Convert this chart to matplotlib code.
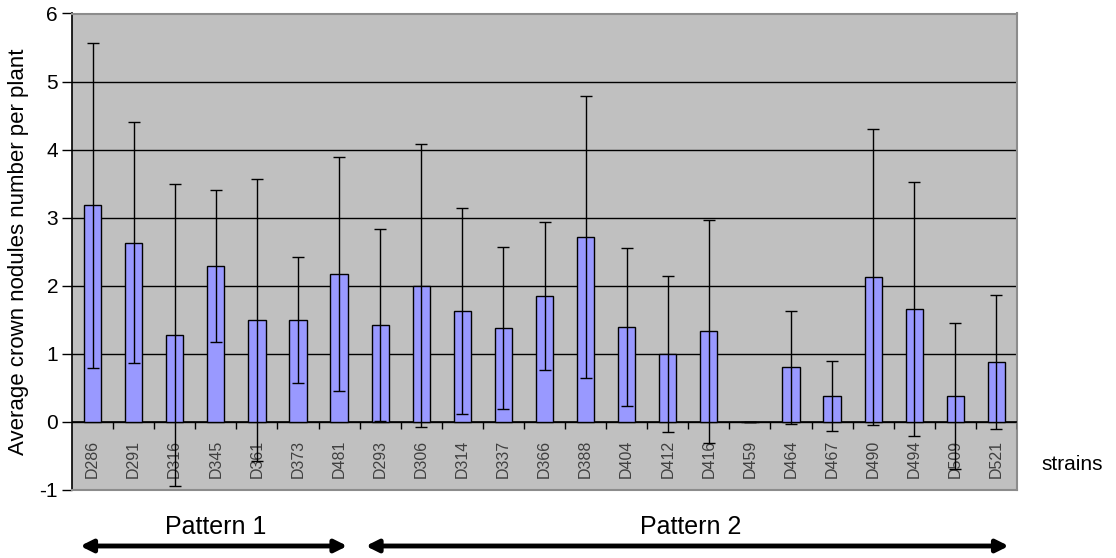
import matplotlib
matplotlib.use("Agg")
import matplotlib.pyplot as plt
import numpy as np

plt.rcParams['font.family'] = ['Liberation Sans', 'DejaVu Sans']
plt.rcParams['axes.unicode_minus'] = False

strains = ["D286", "D291", "D316", "D345", "D361", "D373", "D481", "D293", "D306",
           "D314", "D337", "D366", "D388", "D404", "D412", "D416", "D459", "D464",
           "D467", "D490", "D494", "D509", "D521"]
means = [3.18, 2.63, 1.28, 2.29, 1.50, 1.50, 2.17, 1.42, 2.00, 1.63, 1.38, 1.85,
         2.72, 1.39, 1.00, 1.33, 0.00, 0.80, 0.38, 2.13, 1.66, 0.38, 0.88]
sds = [2.39, 1.77, 2.22, 1.12, 2.07, 0.93, 1.72, 1.41, 2.08, 1.51, 1.19, 1.09,
       2.07, 1.16, 1.15, 1.64, 0.00, 0.83, 0.51, 2.17, 1.87, 1.07, 0.99]
yticks = [-1, 0, 1, 2, 3, 4, 5, 6]
ylabel = "Average crown nodules number per plant"
xlabel = "strains"
patterns = ["Pattern 1", "Pattern 2"]

W, H = 1116, 558
fig = plt.figure(figsize=(W / 100, H / 100), dpi=100)
ax = fig.add_axes([72 / W, 1 - 490 / H, (1017 - 72) / W, (490 - 13.5) / H])
ax.set_facecolor("#C0C0C0")

x = np.arange(len(strains))
ax.bar(x, means, width=0.42, color="#9999FF", edgecolor="black", linewidth=1.0, zorder=3)
ax.errorbar(x, means, yerr=sds, fmt="none", ecolor="black", elinewidth=1.0,
            capsize=4, capthick=1.0, zorder=4)

ax.set_xlim(-0.5, len(strains) - 0.5)
ax.set_ylim(-1, 6)
ax.set_yticks(yticks)
ax.tick_params(axis="y", direction="out", length=7, width=1, labelsize=15, pad=3)
ax.yaxis.grid(True, color="black", linewidth=1.0)
ax.set_axisbelow(True)

# x axis at zero
ax.axhline(0, color="black", linewidth=1.2, zorder=2.6)
ax.set_xticks([])
bounds = np.arange(len(strains) + 1) - 0.5
ax.vlines(bounds[1:], -0.1, 0, color="black", linewidth=1.0, zorder=2.6)
for i, s in enumerate(strains):
    ax.text(i, -0.26, s, rotation=90, ha="center", va="top", fontsize=11.5,
            color="#404040", zorder=1.5)

for side in ["top", "right", "bottom"]:
    ax.spines[side].set_color("#8C8C8C")
    ax.spines[side].set_linewidth(1.5)
ax.spines["left"].set_color("black")
ax.spines["left"].set_linewidth(1.2)

ax.set_ylabel(ylabel, fontsize=16)
ax.yaxis.set_label_coords(-(72 - 29) / 945, 0.5)
fig.text(1072 / W, 1 - 465 / H, xlabel, ha="center", va="center", fontsize=15)

# pattern annotations
trans = ("data", "figure fraction")
ax.annotate("", xy=(-0.3, 1 - 546 / H), xytext=(6.2, 1 - 546 / H),
            xycoords=trans, textcoords=trans, annotation_clip=False,
            arrowprops=dict(arrowstyle="<|-|>", color="black", lw=3.5,
                            mutation_scale=18, shrinkA=0, shrinkB=0))
ax.annotate("", xy=(6.65, 1 - 546 / H), xytext=(22.3, 1 - 546 / H),
            xycoords=trans, textcoords=trans, annotation_clip=False,
            arrowprops=dict(arrowstyle="<|-|>", color="black", lw=3.5,
                            mutation_scale=18, shrinkA=0, shrinkB=0))
ax.annotate(patterns[0], xy=(3.0, 1 - 527 / H), xycoords=trans, ha="center",
            va="center", fontsize=18, annotation_clip=False)
ax.annotate(patterns[1], xy=(14.55, 1 - 527 / H), xycoords=trans, ha="center",
            va="center", fontsize=18, annotation_clip=False)

fig.savefig("out.png", dpi=100)
